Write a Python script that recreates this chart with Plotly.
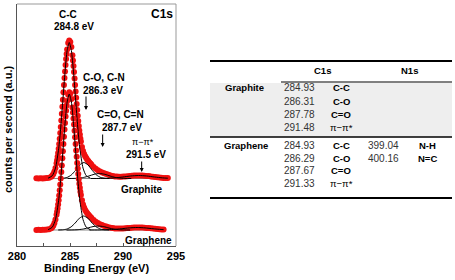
import plotly.graph_objects as go

# ---------------- spectrum data (binding energy eV, intensity a.u. above baseline) -------------
graphite_be = [281.83, 282.03, 282.23, 282.43, 282.63, 282.83, 283.03, 283.23,
               283.33, 283.43, 283.53, 283.63, 283.73, 283.78, 283.83, 283.88, 283.93, 283.98,
               284.03, 284.08, 284.13, 284.18, 284.23, 284.28, 284.33, 284.38, 284.43, 284.48,
               284.53, 284.58, 284.63, 284.68, 284.73, 284.83, 284.93, 285.03, 285.13, 285.23,
               285.28, 285.33, 285.38, 285.43, 285.48, 285.53, 285.58, 285.63, 285.68, 285.73,
               285.78, 285.83, 285.88, 285.93, 285.98, 286.03, 286.13, 286.23,
               286.33, 286.43, 286.53, 286.63, 286.73, 286.83, 286.93, 287.03,
               287.23, 287.43, 287.63, 287.83, 288.03, 288.23, 288.43, 288.63, 288.83, 289.03,
               289.23, 289.43, 289.63, 289.83, 290.03, 290.23, 290.43, 290.63, 290.83, 291.03,
               291.23, 291.43, 291.63, 291.83, 292.03, 292.23, 292.43, 292.63, 292.83, 293.03,
               293.23, 293.43, 293.63, 293.83, 294.03, 294.23]
graphite_counts = [0.2, 0.0, 0.2, 0.1, 0.3, 0.4, 0.8, 1.8,
                   2.9, 4.5, 7.0, 10.5, 15.3, 18.3, 21.7, 25.4, 29.8, 34.5,
                   39.8, 45.4, 51.5, 57.9, 64.7, 71.7, 78.8, 86.2, 93.4, 100.4,
                   107.1, 113.5, 119.4, 124.6, 129.1, 135.4, 138.0, 136.6, 131.6, 123.2,
                   118.1, 112.4, 106.4, 100.0, 93.6, 87.0, 80.7, 74.4, 68.4, 62.8,
                   57.4, 52.6, 47.9, 43.9, 40.1, 36.9, 31.4, 27.5,
                   24.5, 22.2, 20.4, 18.8, 17.4, 16.1, 14.9, 13.7,
                   11.6, 9.7, 8.2, 7.0, 6.1, 5.2, 4.4, 3.7, 3.0, 2.5,
                   2.1, 1.9, 1.8, 1.8, 1.9, 2.1, 2.3, 2.5, 2.7, 2.9,
                   3.0, 3.1, 3.1, 3.0, 2.8, 2.6, 2.4, 2.1, 1.8, 1.5,
                   1.3, 1.0, 0.8, 0.6, 0.5, 0.4]

graphene_be = [281.83, 282.03, 282.23, 282.43, 282.63, 282.83, 283.03, 283.23,
               283.33, 283.43, 283.53, 283.63, 283.73, 283.78, 283.83, 283.88, 283.93, 283.98,
               284.03, 284.08, 284.13, 284.18, 284.23, 284.28, 284.33, 284.38, 284.43, 284.48,
               284.53, 284.58, 284.63, 284.68, 284.73, 284.83, 284.93, 285.03, 285.13, 285.23,
               285.28, 285.33, 285.38, 285.43, 285.48, 285.53, 285.58, 285.63, 285.68, 285.73,
               285.78, 285.83, 285.88, 285.93, 285.98, 286.03, 286.13, 286.23,
               286.33, 286.43, 286.53, 286.63, 286.73, 286.83, 286.93, 287.03,
               287.23, 287.43, 287.63, 287.83, 288.03, 288.23, 288.43, 288.63, 288.83, 289.03,
               289.23, 289.43, 289.63, 289.83, 290.03, 290.23, 290.43, 290.63, 290.83, 291.03,
               291.23, 291.43, 291.63, 291.83, 292.03, 292.23, 292.43, 292.63, 292.83, 293.03,
               293.23, 293.43, 293.63, 293.83]
graphene_counts = [0.1, 0.2, 0.0, 0.2, 0.2, 0.4, 0.7, 1.7,
                   2.8, 4.4, 6.9, 10.4, 15.2, 18.2, 21.6, 25.4, 29.7, 34.4,
                   39.8, 45.4, 51.5, 57.9, 64.6, 71.7, 78.8, 86.1, 93.3, 100.4,
                   107.1, 113.4, 119.3, 124.5, 128.9, 135.2, 137.8, 136.3, 131.1, 122.6,
                   117.4, 111.6, 105.6, 99.2, 92.7, 86.0, 79.5, 73.2, 67.1, 61.4,
                   55.9, 51.0, 46.3, 42.2, 38.3, 35.1, 29.7, 25.5,
                   22.4, 20.1, 18.3, 16.8, 15.5, 14.2, 13.1, 12.0,
                   10.0, 8.3, 6.9, 5.8, 4.9, 4.1, 3.4, 2.8, 2.3, 1.9,
                   1.6, 1.5, 1.4, 1.5, 1.6, 1.7, 1.9, 2.1, 2.3, 2.4,
                   2.5, 2.6, 2.5, 2.4, 2.3, 2.1, 1.9, 1.7, 1.4, 1.2,
                   1.0, 0.8, 0.6, 0.5]

# ---------------- fitted components -------------
cc_be = [282.93, 283.33, 283.63, 283.93, 284.13, 284.33, 284.53, 284.73, 284.93,
         285.13, 285.33, 285.53, 285.73, 285.93, 286.23, 286.53, 286.93]
graphite_cc = [0.3, 2.8, 10.4, 29.7, 51.4, 78.6, 106.6, 128.0, 136.0,
               128.0, 106.6, 78.6, 51.4, 29.7, 10.4, 2.8, 0.3]
graphene_cc = [0.3, 2.8, 10.4, 29.7, 51.4, 78.6, 106.6, 128.0, 136.0,
               128.0, 106.6, 78.6, 51.4, 29.7, 10.4, 2.8, 0.3]

graphite_co_be = [283.91, 284.31, 284.71, 285.11, 285.51, 285.91, 286.31,
                  286.71, 287.11, 287.51, 287.91, 288.31, 288.71]
graphite_co = [0.03, 0.2, 1.0, 3.4, 8.0, 13.5, 16.0, 13.5, 8.0, 3.4, 1.0, 0.2, 0.03]
graphene_co_be = [283.89, 284.29, 284.69, 285.09, 285.49, 285.89, 286.29,
                  286.69, 287.09, 287.49, 287.89, 288.29, 288.69]
graphene_co = [0.03, 0.18, 0.9, 3.0, 7.0, 11.8, 14.0, 11.8, 7.0, 3.0, 0.9, 0.18, 0.03]

graphite_cdo_be = [284.78, 285.28, 285.78, 286.28, 286.78, 287.28, 287.78,
                   288.28, 288.78, 289.28, 289.78, 290.28, 290.78]
graphite_cdo = [0.01, 0.07, 0.31, 1.05, 2.5, 4.2, 5.0, 4.2, 2.5, 1.05, 0.31, 0.07, 0.01]
graphene_cdo_be = [284.67, 285.17, 285.67, 286.17, 286.67, 287.17, 287.67,
                   288.17, 288.67, 289.17, 289.67, 290.17, 290.67]
graphene_cdo = [0.01, 0.05, 0.25, 0.84, 2.0, 3.4, 4.0, 3.4, 2.0, 0.84, 0.25, 0.05, 0.01]

graphite_pi_be = [286.98, 287.73, 288.48, 289.23, 289.98, 290.73, 291.48,
                  292.23, 292.98, 293.73, 294.23]
graphite_pi = [0.01, 0.04, 0.19, 0.63, 1.5, 2.52, 3.0, 2.52, 1.5, 0.63, 0.29]
graphene_pi_be = [286.83, 287.58, 288.33, 289.08, 289.83, 290.58, 291.33,
                  292.08, 292.83, 293.58, 293.83]
graphene_pi = [0.01, 0.03, 0.16, 0.53, 1.25, 2.1, 2.5, 2.1, 1.25, 0.53, 0.37]

# vertical stacking offsets (a.u.)
GRAPHITE_OFFSET = 67.5
GRAPHENE_OFFSET = 16.0

# ---------------- axis ticks -------------
x_tickvals = [280, 282.5, 285, 287.5, 290, 292.5, 295]
x_ticktext = ["280", "", "285", "", "290", "", "295"]

# ---------------- table data -------------
table_headers = ["C1s", "N1s"]
graphite_c1s = [284.93, 286.31, 287.78, 291.48]
graphene_c1s = [284.93, 286.29, 287.67, 291.33]
c1s_labels = ["C-C", "C-O", "C=O", "π−π*"]
graphene_n1s = [399.04, 400.16]
n1s_labels = ["N-H", "N=C"]

FONT = "Liberation Sans"
RED = "rgb(240,16,16)"

fig = go.Figure()


def add_spectrum(be, counts, offset, comps, baseline_end):
    fig.add_trace(go.Scatter(x=[be[0], baseline_end], y=[offset, offset], mode="lines",
                             line=dict(color="#8a8a8a", width=1), hoverinfo="skip"))
    fig.add_trace(go.Scatter(x=be, y=[c + offset for c in counts], mode="markers",
                             marker=dict(size=6, color=RED, line=dict(width=0))))
    for cbe, cval in comps:
        fig.add_trace(go.Scatter(x=cbe, y=[c + offset for c in cval], mode="lines",
                                 line=dict(color="black", width=1, shape="spline", smoothing=0.6),
                                 hoverinfo="skip"))


add_spectrum(graphite_be, graphite_counts, GRAPHITE_OFFSET,
             [(cc_be, graphite_cc), (graphite_co_be, graphite_co),
              (graphite_cdo_be, graphite_cdo), (graphite_pi_be, graphite_pi)], graphite_be[-1])
add_spectrum(graphene_be, graphene_counts, GRAPHENE_OFFSET,
             [(cc_be, graphene_cc), (graphene_co_be, graphene_co),
              (graphene_cdo_be, graphene_cdo), (graphene_pi_be, graphene_pi)], graphene_be[-1])

# ---------------- layout geometry helpers (pixel -> paper) -------------
ML, MR, MT, MB = 17, 2, 4, 34
W, H = 455, 280
PW, PH = W - ML - MR, H - MT - MB


def px(x):
    return (x - ML) / PW


def py(y):
    return (H - MB - y) / PH


annotations = []


def txt(x, y, s, size=10, bold=True, xanchor="center", color="black", ref="paper"):
    a = dict(x=x, y=y, text=s, showarrow=False, xanchor=xanchor, yanchor="middle",
             font=dict(family=FONT, size=size, color=color, weight="bold" if bold else "normal"))
    if ref == "paper":
        a.update(xref="paper", yref="paper", x=px(x), y=py(y))
    else:
        a.update(xref="x", yref="y")
    annotations.append(a)


# in-plot labels (data coords)
txt(284.81, 232, "C-C", ref="data")
txt(285.33, 220, "284.8 eV", ref="data")
txt(288.2, 169, "C-O, C-N", ref="data")
txt(288.07, 156, "286.3 eV", ref="data")
txt(289.76, 132, "C=O, C=N", ref="data")
txt(289.88, 119, "287.7 eV", ref="data")
txt(291.89, 104, "π−π*", size=9, bold=False, ref="data")
txt(292.17, 92, "291.5 eV", ref="data")
txt(293.96, 57, "Graphite", xanchor="right", ref="data")
txt(294.81, 6, "Graphene", xanchor="right", ref="data")
txt(294.91, 232, "C1s", size=12, xanchor="right", ref="data")

for xh, yt, yh in [(286.51, 151, 136), (288.08, 113, 99), (291.76, 86, 74)]:
    annotations.append(dict(x=xh, y=yh, ax=xh, ay=yt, xref="x", yref="y", axref="x", ayref="y",
                            text="", showarrow=True, arrowhead=2, arrowsize=0.8,
                            arrowwidth=1, arrowcolor="black", standoff=0))

# y title
annotations.append(dict(x=px(8), y=py(130), xref="paper", yref="paper", text="counts per second (a.u.)",
                        textangle=-90, showarrow=False, xanchor="center", yanchor="middle",
                        font=dict(family=FONT, size=11, color="black", weight="bold")))

# ---------------- table -------------
shapes = []
TL, TR = 210, 452
shapes.append(dict(type="rect", xref="paper", yref="paper", x0=px(TL), x1=px(TR), y0=py(83), y1=py(137),
                   fillcolor="#eeeeee", line=dict(width=0), layer="below"))
for y, x0, w in [(61, TL, 2), (82, 281, 1), (137, TL, 1.5), (198, TL, 2)]:
    shapes.append(dict(type="line", xref="paper", yref="paper", x0=px(x0), x1=px(TR),
                       y0=py(y), y1=py(y), line=dict(color="black", width=w)))
# plot frame top/right (grey)
shapes.append(dict(type="line", xref="paper", yref="paper", x0=0, x1=px(176), y0=1, y1=1,
                   line=dict(color="#999999", width=1)))
shapes.append(dict(type="line", xref="paper", yref="paper", x0=px(176), x1=px(176), y0=0, y1=1,
                   line=dict(color="#999999", width=1)))

txt(322, 70, table_headers[0], size=9.5)
txt(409, 70, table_headers[1], size=9.5)
txt(223, 88, "Graphite", size=9.5, xanchor="left")
txt(222, 145, "Graphene", size=9.5, xanchor="left")
VAL_COLOR = "#333333"
for i, (v, lab) in enumerate(zip(graphite_c1s, c1s_labels)):
    yy = [88, 101, 114, 127][i]
    txt(299, yy, f"{v:.2f}", size=10, bold=False, color=VAL_COLOR)
    txt(341, yy, lab, size=9.5, bold=not lab.startswith("π"), color="black")
for i, (v, lab) in enumerate(zip(graphene_c1s, c1s_labels)):
    yy = [145, 158, 170.5, 183][i]
    txt(299, yy, f"{v:.2f}", size=10, bold=False, color=VAL_COLOR)
    txt(341, yy, lab, size=9.5, bold=not lab.startswith("π"), color="black")
for i, (v, lab) in enumerate(zip(graphene_n1s, n1s_labels)):
    yy = [145, 158][i]
    txt(383, yy, f"{v:.2f}", size=10, bold=False, color=VAL_COLOR)
    txt(427, yy, lab, size=9.5, color="black")

fig.update_layout(
    width=W, height=H, margin=dict(l=ML, r=MR, t=MT, b=MB, autoexpand=False),
    paper_bgcolor="white", plot_bgcolor="white", showlegend=False,
    font=dict(family=FONT, color="black"),
    annotations=annotations, shapes=shapes,
    xaxis=dict(domain=[0, px(176)], range=[280, 295], tickvals=x_tickvals, ticktext=x_ticktext,
               ticks="inside", ticklen=3, tickcolor="#555555", showgrid=False, zeroline=False,
               showline=True, linecolor="#555555", linewidth=1,
               tickfont=dict(family=FONT, size=11, color="black", weight="bold"),
               title=dict(text="Binding Energy (eV)", standoff=2,
                          font=dict(family=FONT, size=11, color="black", weight="bold")),
               automargin=False),
    yaxis=dict(range=[0, 242], showticklabels=False, ticks="", showgrid=False, zeroline=False,
               showline=True, linecolor="#555555", linewidth=1, automargin=False),
)

fig.write_html("out.html", config={"displayModeBar": False, "staticPlot": True},
               post_script="document.body.style.margin='0';document.body.style.overflow='hidden';")
